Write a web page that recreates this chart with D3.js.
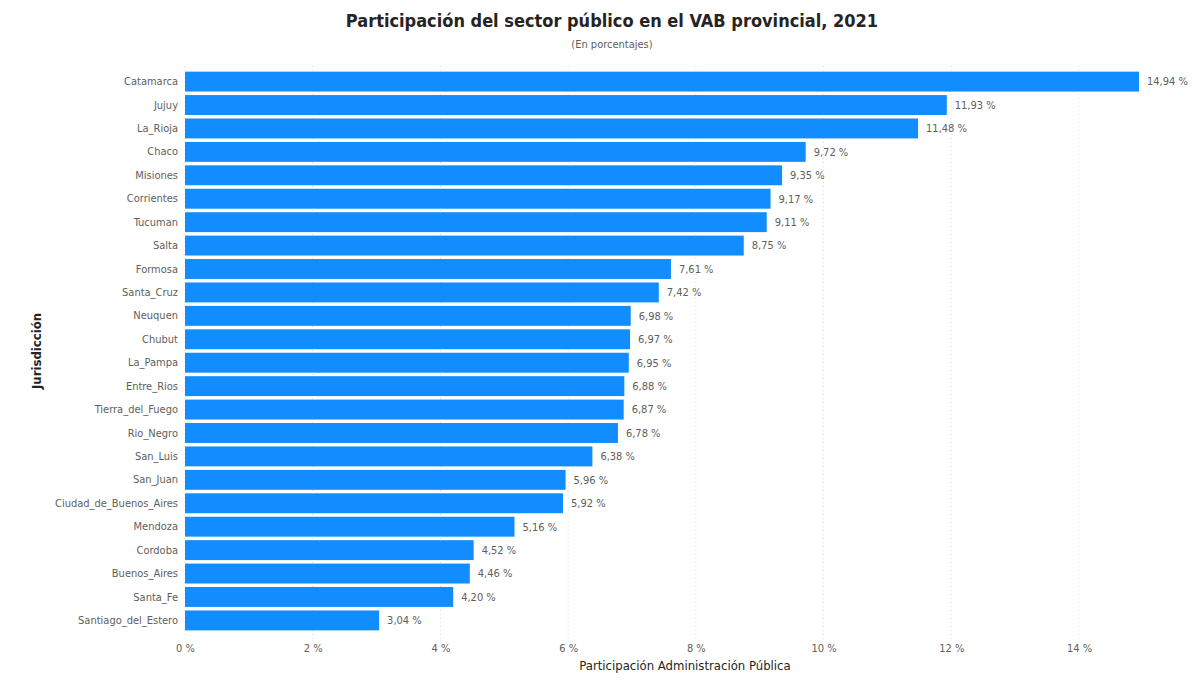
<!DOCTYPE html>
<html>
<head>
<meta charset="utf-8">
<script src="https://cdn.jsdelivr.net/npm/d3@7"></script>
<style>
  body { margin: 0; background: #fff; }
  svg { display: block; }
</style>
</head>
<body>
<div id="chart"></div>
<script>
const provincias = [
  "Catamarca", "Jujuy", "La_Rioja", "Chaco", "Misiones", "Corrientes", "Tucuman",
  "Salta", "Formosa", "Santa_Cruz", "Neuquen", "Chubut", "La_Pampa", "Entre_Rios",
  "Tierra_del_Fuego", "Rio_Negro", "San_Luis", "San_Juan", "Ciudad_de_Buenos_Aires",
  "Mendoza", "Cordoba", "Buenos_Aires", "Santa_Fe", "Santiago_del_Estero"
];
const participacion = [
  14.94, 11.93, 11.48, 9.72, 9.35, 9.17, 9.11,
  8.75, 7.61, 7.42, 6.98, 6.97, 6.95, 6.88,
  6.87, 6.78, 6.38, 5.96, 5.92,
  5.16, 4.52, 4.46, 4.20, 3.04
];
const xTicks = [0, 2, 4, 6, 8, 10, 12, 14];

const width = 1200;
const height = 681;
const margin = ({top: 70, right: 61, bottom: 49, left: 185});
const color = "#118DFF";
const font = "'DejaVu Sans Condensed', 'DejaVu Sans', sans-serif";

const data = provincias.map((name, i) => ({name, value: participacion[i]}));

const x = d3.scaleLinear()
    .domain([0, 14.94])
    .range([margin.left, width - margin.right]);

const y = d3.scaleBand()
    .domain(provincias)
    .range([margin.top, height - margin.bottom])
    .paddingInner(0.15)
    .paddingOuter(0.07);

const fmt = v => d3.format(".2f")(v).replace(".", ",") + " %";

const svg = d3.select("#chart").append("svg")
    .attr("width", width)
    .attr("height", height)
    .attr("viewBox", [0, 0, width, height]);

// gridlines
svg.append("g")
  .selectAll("line")
  .data(xTicks)
  .join("line")
    .attr("x1", d => x(d))
    .attr("x2", d => x(d))
    .attr("y1", 66)
    .attr("y2", 640)
    .attr("stroke", "#d9d9d9")
    .attr("stroke-width", 1)
    .attr("stroke-dasharray", "1,3");

// bars
svg.append("g")
    .attr("fill", color)
  .selectAll("rect")
  .data(data)
  .join("rect")
    .attr("x", x(0))
    .attr("y", d => y(d.name))
    .attr("width", d => x(d.value) - x(0))
    .attr("height", y.bandwidth());

// value labels
svg.append("g")
    .attr("font-family", font)
    .attr("font-size", 11)
    .attr("fill", "#605E5C")
  .selectAll("text")
  .data(data)
  .join("text")
    .attr("x", d => x(d.value) + 8)
    .attr("y", d => y(d.name) + y.bandwidth() / 2)
    .attr("dy", "0.35em")
    .text(d => fmt(d.value));

// y axis
svg.append("g")
    .attr("transform", `translate(${margin.left - 3},0)`)
    .call(d3.axisLeft(y).tickSize(0).tickPadding(4))
    .call(g => g.select(".domain").remove())
    .call(g => g.selectAll("text")
        .attr("font-family", font)
        .attr("font-size", 11)
        .attr("fill", "#605E5C"));

// x axis
svg.append("g")
    .attr("transform", `translate(0,${height - margin.bottom})`)
    .call(d3.axisBottom(x).tickValues(xTicks).tickSize(0).tickPadding(12)
        .tickFormat(d => d + " %"))
    .call(g => g.select(".domain").remove())
    .call(g => g.selectAll("text")
        .attr("font-family", font)
        .attr("font-size", 11)
        .attr("fill", "#605E5C"));

// titles
svg.append("text")
    .attr("x", 612)
    .attr("y", 27)
    .attr("text-anchor", "middle")
    .attr("font-family", font)
    .attr("font-weight", "bold")
    .attr("font-size", 18)
    .attr("fill", "#252423")
    .text("Participación del sector público en el VAB provincial, 2021");

svg.append("text")
    .attr("x", 612)
    .attr("y", 48)
    .attr("text-anchor", "middle")
    .attr("font-family", font)
    .attr("font-size", 11)
    .attr("fill", "#605E5C")
    .text("(En porcentajes)");

svg.append("text")
    .attr("x", 685)
    .attr("y", 670)
    .attr("text-anchor", "middle")
    .attr("font-family", font)
    .attr("font-size", 13)
    .attr("fill", "#252423")
    .text("Participación Administración Pública");

svg.append("text")
    .attr("transform", "translate(41,351) rotate(-90)")
    .attr("text-anchor", "middle")
    .attr("font-family", font)
    .attr("font-weight", "bold")
    .attr("font-size", 13)
    .attr("fill", "#252423")
    .text("Jurisdicción");
</script>
</body>
</html>
